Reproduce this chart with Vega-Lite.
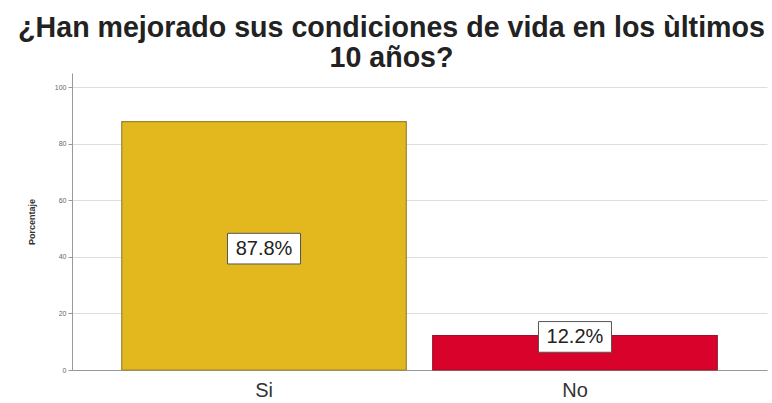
{
  "$schema": "https://vega.github.io/schema/vega-lite/v6.json",
  "width": 695,
  "height": 297,
  "autosize": {"type": "none"},
  "padding": {"left": 72, "top": 73, "right": 5, "bottom": 33},
  "background": "white",
  "config": {
    "view": {"stroke": null},
    "font": "Liberation Sans"
  },
  "title": {
    "text": ["¿Han mejorado sus condiciones de vida en los ùltimos", "10 años?"],
    "fontSize": 28.6,
    "fontWeight": "bold",
    "color": "#222222",
    "anchor": "middle",
    "lineHeight": 30,
    "dx": -28,
    "offset": 0
  },
  "data": {
    "values": [
      {"cat": "Si", "pct": 87.8, "label": "87.8%"},
      {"cat": "No", "pct": 12.2, "label": "12.2%"}
    ]
  },
  "transform": [
    {"calculate": "datum.pct / 2 < 11.7 ? 11.7 : datum.pct / 2 - 1", "as": "labelY"}
  ],
  "encoding": {
    "x": {
      "field": "cat",
      "type": "nominal",
      "sort": ["Si", "No"],
      "scale": {"paddingInner": 0.085, "paddingOuter": 0.16},
      "axis": {
        "title": null,
        "labelAngle": 0,
        "labelFontSize": 20,
        "labelColor": "#333333",
        "labelPadding": 10,
        "ticks": false,
        "domainColor": "#999999",
        "grid": false
      }
    }
  },
  "layer": [
    {
      "mark": {"type": "bar", "strokeWidth": 1.2},
      "encoding": {
        "y": {
          "field": "pct",
          "type": "quantitative",
          "scale": {"domain": [0, 105], "nice": false},
          "axis": {
            "values": [0, 20, 40, 60, 80, 100],
            "title": "Porcentaje",
            "titleFontSize": 9,
            "titleFontWeight": "bold",
            "titleColor": "#333333",
            "titlePadding": 18,
            "labelFontSize": 7,
            "labelColor": "#666666",
            "tickColor": "#999999",
            "tickSize": 4,
            "domainColor": "#999999",
            "gridColor": "#dddddd"
          }
        },
        "color": {
          "field": "cat",
          "type": "nominal",
          "scale": {"domain": ["Si", "No"], "range": ["#E2B81E", "#D9022B"]},
          "legend": null
        },
        "stroke": {
          "field": "cat",
          "type": "nominal",
          "scale": {"domain": ["Si", "No"], "range": ["#9A8530", "#A0102A"]},
          "legend": null
        }
      }
    },
    {
      "mark": {
        "type": "point",
        "shape": "M-1,-0.42H1V0.42H-1Z",
        "size": 5329,
        "filled": true,
        "fill": "white",
        "stroke": "#555555",
        "strokeWidth": 1,
        "opacity": 1
      },
      "encoding": {
        "y": {"field": "labelY", "type": "quantitative"}
      }
    },
    {
      "mark": {"type": "text", "fontSize": 20, "color": "#222222", "baseline": "middle"},
      "encoding": {
        "y": {"field": "labelY", "type": "quantitative"},
        "text": {"field": "label"}
      }
    }
  ]
}
